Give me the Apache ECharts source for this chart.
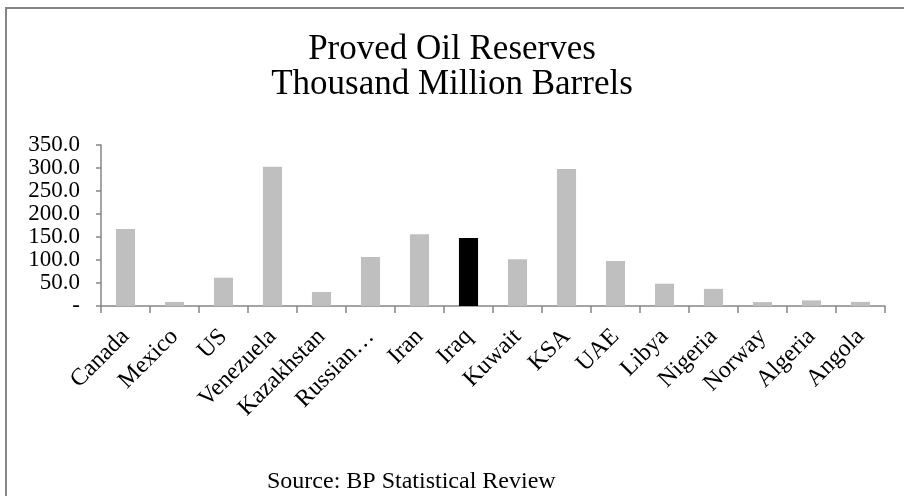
<!DOCTYPE html>
<html>
<head>
<meta charset="utf-8">
<script src="https://cdn.jsdelivr.net/npm/echarts@6/dist/echarts.min.js"></script>
<style>
  html, body { margin: 0; padding: 0; background: #fff; }
  #chart { width: 904px; height: 496px; }
</style>
</head>
<body>
<div id="chart"></div>
<script>
// Proved oil reserves by country, thousand million barrels
const countries = ['Canada', 'Mexico', 'US', 'Venezuela', 'Kazakhstan', 'Russian Federation',
  'Iran', 'Iraq', 'Kuwait', 'KSA', 'UAE', 'Libya', 'Nigeria', 'Norway', 'Algeria', 'Angola'];
const reserves = [167.4, 9.0, 61.5, 302.8, 30.4, 106.5, 155.8, 148.0, 101.5, 297.8, 97.8, 48.5, 37.2, 8.5, 12.2, 9.0];
const highlighted = 'Iraq';
const yTicks = [0, 50, 100, 150, 200, 250, 300, 350];

const serif = '"Liberation Serif", "DejaVu Serif", serif';
const axisGray = '#868686';

const chart = echarts.init(document.getElementById('chart'), null, { renderer: 'canvas' });

chart.setOption({
  backgroundColor: '#ffffff',
  animation: false,
  title: {
    text: 'Proved Oil Reserves\nThousand Million Barrels',
    left: 447,
    textAlign: 'center',
    top: 27,
    textStyle: {
      fontFamily: serif,
      fontWeight: 'normal',
      fontSize: 35,
      lineHeight: 35,
      color: '#000'
    }
  },
  graphic: [
    {
      type: 'rect',
      shape: { x: 6, y: 8, width: 1000, height: 1000 },
      style: { fill: 'none', stroke: axisGray, lineWidth: 2 },
      silent: true
    },
    {
      type: 'text',
      left: 267,
      top: 470,
      style: {
        text: 'Source: BP Statistical Review',
        font: '24px ' + serif,
        fill: '#000'
      }
    }
  ],
  grid: { left: 101, right: 19, top: 145, bottom: 190, containLabel: false },
  xAxis: {
    type: 'category',
    data: countries,
    axisLine: { lineStyle: { color: axisGray, width: 1.5 } },
    axisTick: { show: true, length: 7, alignWithLabel: false, lineStyle: { color: axisGray, width: 1.5 } },
    axisLabel: {
      interval: 0,
      rotate: 45,
      margin: 27,
      fontFamily: serif,
      fontSize: 24,
      color: '#000',
      formatter: function (name) {
        return name.length > 12 ? name.slice(0, 7) + '…' : name;
      }
    }
  },
  yAxis: {
    type: 'value',
    min: yTicks[0],
    max: yTicks[yTicks.length - 1],
    interval: yTicks[1] - yTicks[0],
    splitLine: { show: false },
    axisLine: { show: true, lineStyle: { color: axisGray, width: 1.5 } },
    axisTick: { show: true, length: 5, lineStyle: { color: axisGray, width: 1.5 } },
    axisLabel: {
      margin: 21,
      showMinLabel: true,
      showMaxLabel: true,
      hideOverlap: false,
      fontFamily: serif,
      fontSize: 23,
      lineHeight: 23,
      color: '#000',
      formatter: function (v) { return v === 0 ? '-' : v.toFixed(1); }
    }
  },
  series: [{
    type: 'bar',
    barWidth: '39%',
    data: reserves.map(function (v, i) {
      return {
        value: v,
        itemStyle: { color: countries[i] === highlighted ? '#000000' : '#bfbfbf' }
      };
    })
  }]
});
</script>
</body>
</html>
